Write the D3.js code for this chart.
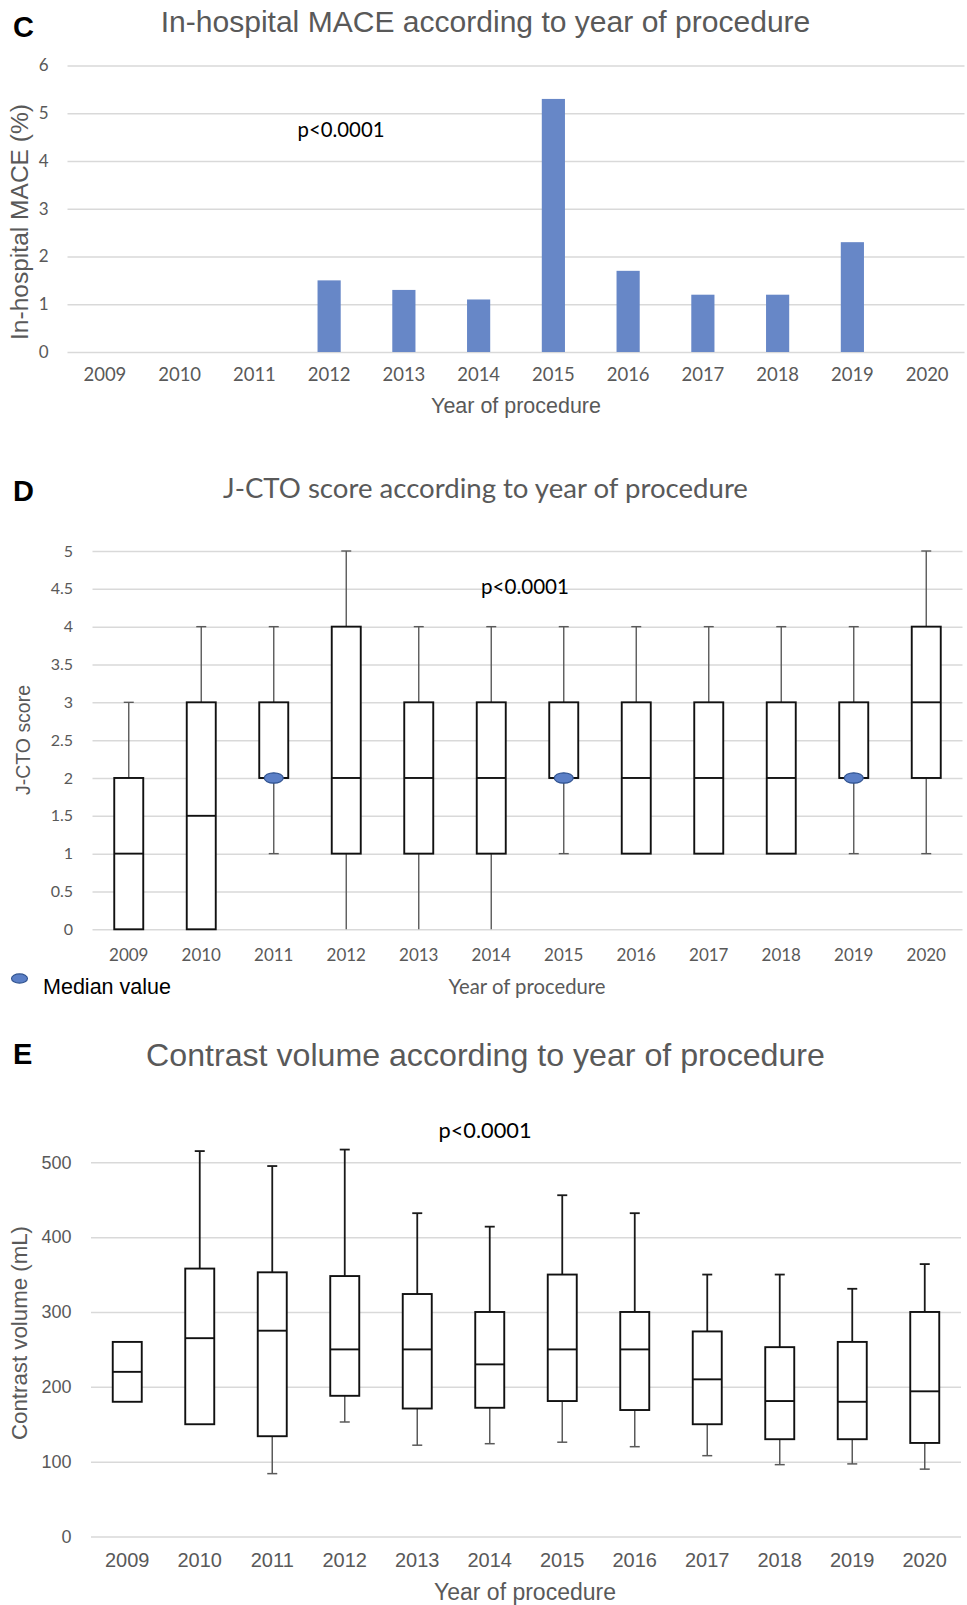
<!DOCTYPE html>
<html>
<head>
<meta charset="utf-8">
<script src="https://cdn.jsdelivr.net/npm/d3@7"></script>
<style>
  html, body { margin: 0; padding: 0; background: #fff; }
  svg { display: block; }
</style>
</head>
<body>
<svg id="chart" width="967" height="1605"></svg>
<script>
// ---------------- DATA ----------------
const years = ["2009","2010","2011","2012","2013","2014","2015","2016","2017","2018","2019","2020"];

// Panel C: in-hospital MACE (%)
const maceValues = [0, 0, 0, 1.5, 1.3, 1.1, 5.3, 1.7, 1.2, 1.2, 2.3, 0];
const maceTicks = [0, 1, 2, 3, 4, 5, 6];

// Panel D: J-CTO score box plots
const jctoMin    = [0, 0,   1, 0, 0, 0, 1, 1, 1, 1, 1, 1];
const jctoQ1     = [0, 0,   2, 1, 1, 1, 2, 1, 1, 1, 2, 2];
const jctoMedian = [1, 1.5, 2, 2, 2, 2, 2, 2, 2, 2, 2, 3];
const jctoQ3     = [2, 3,   3, 4, 3, 3, 3, 3, 3, 3, 3, 4];
const jctoMax    = [3, 4,   4, 5, 4, 4, 4, 4, 4, 4, 4, 5];
const jctoTicks  = [0, 0.5, 1, 1.5, 2, 2.5, 3, 3.5, 4, 4.5, 5];

// Panel E: contrast volume (mL) box plots
const contrastMin    = [180, 150,  84, 153, 122, 124, 126, 120, 108,  96,  97,  90];
const contrastQ1     = [180, 150, 134, 188, 171, 172, 181, 169, 150, 130, 130, 125];
const contrastMedian = [220, 265, 275, 250, 250, 230, 250, 250, 210, 181, 180, 194];
const contrastQ3     = [260, 358, 353, 348, 324, 300, 350, 300, 274, 253, 260, 300];
const contrastMax    = [260, 515, 495, 517, 432, 414, 456, 432, 350, 350, 331, 364];
const contrastTicks  = [0, 100, 200, 300, 400, 500];

const panelTitles = {
  C: "In-hospital MACE according to year of procedure",
  D: "J-CTO score according to year of procedure",
  E: "Contrast volume according to year of procedure"
};
const pText = "p<0.0001";
const xTitle = "Year of procedure";
const yTitles = { C: "In-hospital MACE (%)", D: "J-CTO score", E: "Contrast volume (mL)" };
const legendText = "Median value";

// ---------------- STYLE ----------------
const CAL = "Lato, 'Open Sans', sans-serif";
const ARI = "'Liberation Sans', Arial, sans-serif";
const GREY = "#595959";
const GRID = "#d9d9d9";
const BAR = "#6787c7";
const MED_FILL = "#5b7fc6";
const MED_STROKE = "#2f528f";

const svg = d3.select("#chart");

function fit(sel, target) {
  const node = sel.node();
  const w = node.getComputedTextLength();
  const fs = parseFloat(node.getAttribute("font-size"));
  if (w > 0) sel.attr("font-size", (fs * target / w).toFixed(2));
  return sel;
}

function addText(x, y, txt, opts) {
  const t = svg.append("text")
    .attr("x", x).attr("y", y)
    .attr("font-family", opts.font || ARI)
    .attr("font-size", opts.size || 16)
    .attr("fill", opts.fill || GREY)
    .attr("text-anchor", opts.anchor || "middle")
    .attr("font-weight", opts.weight || "normal")
    .text(txt);
  if (opts.dy) t.attr("dy", opts.dy);
  if (opts.rotate) t.attr("transform", `rotate(-90, ${x}, ${y})`);
  if (opts.width) fit(t, opts.width);
  return t;
}

function gridAndAxes(cfg) {
  const g = svg.append("g");
  const axis = d3.axisLeft(cfg.y).tickValues(cfg.ticks)
    .tickSize(-(cfg.x1 - cfg.x0)).tickPadding(cfg.tickPad)
    .tickFormat(d => String(d));
  const ax = g.append("g").attr("transform", `translate(${cfg.x0},0)`).call(axis);
  ax.select(".domain").remove();
  ax.selectAll(".tick line").attr("stroke", GRID).attr("stroke-width", 1.5);
  ax.selectAll(".tick text").attr("font-family", cfg.yFont).attr("font-size", cfg.ySize)
    .attr("fill", GREY);
  const xa = d3.axisBottom(cfg.x).tickSize(0).tickPadding(0);
  const xg = g.append("g").attr("transform", `translate(0,${cfg.xLabelY})`).call(xa);
  xg.select(".domain").remove();
  xg.selectAll(".tick text").attr("font-family", cfg.xFont).attr("font-size", cfg.xSize)
    .attr("fill", GREY).attr("dy", "0.35em");
  return g;
}

function boxPlot(cfg, mins, q1s, meds, q3s, maxs, style) {
  const g = svg.append("g");
  const bw = cfg.x.bandwidth() * 0.4;
  const cap = 10;
  years.forEach((yr, i) => {
    const cx = cfg.x(yr) + cfg.x.bandwidth() / 2;
    if (maxs[i] > q3s[i]) {
      g.append("line").attr("x1", cx).attr("x2", cx)
        .attr("y1", cfg.y(q3s[i])).attr("y2", cfg.y(maxs[i]))
        .attr("stroke", style.upColor).attr("stroke-width", style.upWidth);
      g.append("line").attr("x1", cx - cap / 2).attr("x2", cx + cap / 2)
        .attr("y1", cfg.y(maxs[i])).attr("y2", cfg.y(maxs[i]))
        .attr("stroke", style.upColor).attr("stroke-width", style.upWidth);
    }
    if (mins[i] < q1s[i]) {
      g.append("line").attr("x1", cx).attr("x2", cx)
        .attr("y1", cfg.y(q1s[i])).attr("y2", cfg.y(mins[i]))
        .attr("stroke", style.loColor).attr("stroke-width", style.loWidth);
      if (mins[i] > cfg.y.domain()[0]) {
        g.append("line").attr("x1", cx - cap / 2).attr("x2", cx + cap / 2)
          .attr("y1", cfg.y(mins[i])).attr("y2", cfg.y(mins[i]))
          .attr("stroke", style.loColor).attr("stroke-width", style.loWidth);
      }
    }
    g.append("rect").attr("x", cx - bw / 2).attr("width", bw)
      .attr("y", cfg.y(q3s[i])).attr("height", cfg.y(q1s[i]) - cfg.y(q3s[i]))
      .attr("fill", "#fff").attr("stroke", "#111").attr("stroke-width", 1.9);
    g.append("line").attr("x1", cx - bw / 2).attr("x2", cx + bw / 2)
      .attr("y1", cfg.y(meds[i])).attr("y2", cfg.y(meds[i]))
      .attr("stroke", "#111").attr("stroke-width", 1.9);
    if (style.marker && meds[i] === q1s[i]) {
      g.append("ellipse").attr("cx", cx).attr("cy", cfg.y(meds[i]))
        .attr("rx", 9.5).attr("ry", 5.2)
        .attr("fill", MED_FILL).attr("stroke", MED_STROKE).attr("stroke-width", 1.2);
    }
  });
}

// ---------------- PANEL C ----------------
(function () {
  const x = d3.scaleBand().domain(years).range([67.5, 964.5]).padding(0);
  const y = d3.scaleLinear().domain([0, 6]).range([352, 65.5]);
  const cfg = { x, y, x0: 67.5, x1: 964.5, ticks: maceTicks, tickPad: 19,
    yFont: CAL, ySize: 17, xFont: CAL, xSize: 18.5, xLabelY: 374.5 };
  gridAndAxes(cfg);
  svg.append("g").selectAll("rect").data(years).join("rect")
    .attr("x", d => x(d) + x.bandwidth() * 0.345)
    .attr("width", x.bandwidth() * 0.31)
    .attr("y", (d, i) => y(maceValues[i]))
    .attr("height", (d, i) => y(0) - y(maceValues[i]))
    .attr("fill", BAR);
  addText(13, 36.5, "C", { font: ARI, size: 29, weight: "bold", fill: "#000", anchor: "start" });
  addText(485.5, 32, panelTitles.C, { font: ARI, size: 30, width: 650 });
  addText(341, 137, pText, { font: CAL, size: 20, fill: "#000", width: 87 });
  addText(516, 405, xTitle, { font: ARI, size: 20, dy: "0.35em", width: 170 });
  addText(19.5, 222, yTitles.C, { font: ARI, size: 22, rotate: true, dy: "0.35em", width: 236 });
})();

// ---------------- PANEL D ----------------
(function () {
  const x = d3.scaleBand().domain(years).range([92.5, 962.5]).padding(0);
  const y = d3.scaleLinear().domain([0, 5]).range([929.3, 551]);
  const cfg = { x, y, x0: 92.5, x1: 962.5, ticks: jctoTicks, tickPad: 19.5,
    yFont: CAL, ySize: 16, xFont: CAL, xSize: 17, xLabelY: 955 };
  gridAndAxes(cfg);
  boxPlot(cfg, jctoMin, jctoQ1, jctoMedian, jctoQ3, jctoMax,
    { upColor: "#5a5a5a", upWidth: 1.4, loColor: "#5a5a5a", loWidth: 1.4, marker: true });
  addText(13, 501, "D", { font: ARI, size: 29, weight: "bold", fill: "#000", anchor: "start" });
  addText(485.5, 498, panelTitles.D, { font: CAL, size: 26, width: 525 });
  addText(525, 594, pText, { font: CAL, size: 20, fill: "#000", width: 88 });
  addText(527, 986.5, xTitle, { font: CAL, size: 19, dy: "0.35em", width: 157 });
  addText(23.5, 740, yTitles.D, { font: ARI, size: 18.5, rotate: true, dy: "0.35em", width: 110 });
  // legend
  svg.append("ellipse").attr("cx", 19.5).attr("cy", 978.5).attr("rx", 8).attr("ry", 4.6)
    .attr("fill", MED_FILL).attr("stroke", MED_STROKE).attr("stroke-width", 1.1);
  addText(43, 986.5, legendText, { font: ARI, size: 20, fill: "#000", anchor: "start", dy: "0.35em", width: 128 });
})();

// ---------------- PANEL E ----------------
(function () {
  const x = d3.scaleBand().domain(years).range([91, 961]).padding(0);
  const y = d3.scaleLinear().domain([0, 500]).range([1536.5, 1162.3]);
  const cfg = { x, y, x0: 91, x1: 961, ticks: contrastTicks, tickPad: 19.5,
    yFont: ARI, ySize: 18, xFont: ARI, xSize: 20, xLabelY: 1559.5 };
  gridAndAxes(cfg);
  boxPlot(cfg, contrastMin, contrastQ1, contrastMedian, contrastQ3, contrastMax,
    { upColor: "#1a1a1a", upWidth: 1.8, loColor: "#5a5a5a", loWidth: 1.5, marker: false });
  addText(13, 1064, "E", { font: ARI, size: 29, weight: "bold", fill: "#000", anchor: "start" });
  addText(485.5, 1066, panelTitles.E, { font: ARI, size: 32, width: 679 });
  addText(485, 1130, pText, { font: CAL, size: 20, fill: "#000", dy: "0.35em", width: 93 });
  addText(525, 1592, xTitle, { font: ARI, size: 22, dy: "0.35em", width: 182 });
  addText(19.5, 1333, yTitles.E, { font: ARI, size: 22, rotate: true, dy: "0.35em", width: 214 });
})();
</script>
</body>
</html>
